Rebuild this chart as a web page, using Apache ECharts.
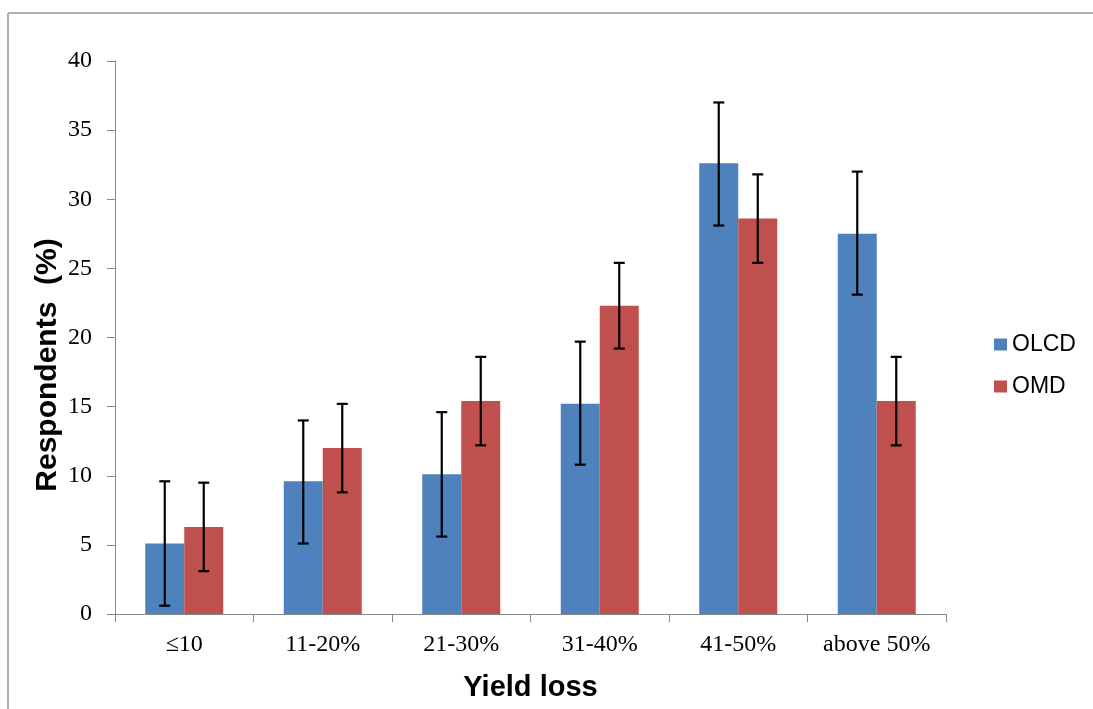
<!DOCTYPE html>
<html>
<head>
<meta charset="utf-8">
<script src="https://cdn.jsdelivr.net/npm/echarts@6/dist/echarts.min.js"></script>
<style>
html,body{margin:0;padding:0;background:#fff;}
#chart{width:1093px;height:709px;}
</style>
</head>
<body>
<div id="chart"></div>
<script>
var categories = ['\u226410', '11-20%', '21-30%', '31-40%', '41-50%', 'above 50%'];
var seriesNames = ['OLCD', 'OMD'];
var olcdValues = [5.1, 9.6, 10.1, 15.2, 32.6, 27.5];
var olcdLow    = [0.6, 5.1, 5.6, 10.8, 28.1, 23.1];
var olcdHigh   = [9.6, 14.0, 14.6, 19.7, 37.0, 32.0];
var omdValues  = [6.3, 12.0, 15.4, 22.3, 28.6, 15.4];
var omdLow     = [3.1, 8.8, 12.2, 19.2, 25.4, 12.2];
var omdHigh    = [9.5, 15.2, 18.6, 25.4, 31.8, 18.6];
var yTicks = {min: 0, max: 40, interval: 5};
var yTitle = 'Respondents  (%)';
var xTitle = 'Yield loss';

var BAR_W = 39;
var chart = echarts.init(document.getElementById('chart'));

function errData(low, high) {
  return categories.map(function (c, i) { return [i, low[i], high[i]]; });
}
function errRender(offset) {
  return function (params, api) {
    var i = api.value(0);
    var lo = api.coord([i, api.value(1)]);
    var hi = api.coord([i, api.value(2)]);
    var x = lo[0] + offset;
    var cap = 5.5;
    var st = {stroke: '#000', lineWidth: 2.2};
    return {
      type: 'group',
      children: [
        {type: 'line', shape: {x1: x, y1: hi[1], x2: x, y2: lo[1]}, style: st},
        {type: 'line', shape: {x1: x - cap, y1: hi[1], x2: x + cap, y2: hi[1]}, style: st},
        {type: 'line', shape: {x1: x - cap, y1: lo[1], x2: x + cap, y2: lo[1]}, style: st}
      ]
    };
  };
}

chart.setOption({
  animation: false,
  backgroundColor: '#fff',
  grid: {left: 115, right: 147, top: 61, bottom: 95, containLabel: false},
  legend: {
    orient: 'vertical',
    left: 989, top: 328,
    data: seriesNames,
    itemWidth: 13, itemHeight: 12, itemGap: 19,
    icon: 'rect',
    textStyle: {fontFamily: 'Liberation Sans', fontSize: 23, color: '#000'}
  },
  xAxis: {
    type: 'category',
    data: categories,
    boundaryGap: true,
    name: xTitle,
    nameLocation: 'middle',
    nameGap: 59,
    nameTextStyle: {fontFamily: 'Liberation Sans', fontWeight: 'bold', fontSize: 29, color: '#000'},
    axisLine: {lineStyle: {color: '#888', width: 1}},
    axisTick: {show: true, length: 8, lineStyle: {color: '#888'}},
    axisLabel: {fontFamily: 'Liberation Serif', fontSize: 24, color: '#000', margin: 19, interval: 0},
    splitLine: {show: false}
  },
  yAxis: {
    type: 'value',
    min: yTicks.min, max: yTicks.max, interval: yTicks.interval,
    axisLine: {show: true, lineStyle: {color: '#888', width: 1}},
    axisTick: {show: true, length: 8, lineStyle: {color: '#888'}},
    axisLabel: {fontFamily: 'Liberation Serif', fontSize: 24, color: '#000', margin: 23},
    splitLine: {show: false}
  },
  graphic: [
    {type: 'line', shape: {x1: 8, y1: 13, x2: 1093, y2: 13}, style: {stroke: '#b0b0b0', lineWidth: 2}, silent: true},
    {type: 'line', shape: {x1: 8, y1: 13, x2: 8, y2: 709}, style: {stroke: '#b0b0b0', lineWidth: 2}, silent: true},
    {type: 'text', x: 48, y: 365, rotation: Math.PI / 2, silent: true,
     style: {text: yTitle, fontFamily: 'Liberation Sans', fontWeight: 'bold', fontSize: 30, fill: '#000',
             textAlign: 'center', textVerticalAlign: 'middle'}}
  ],
  series: [
    {name: 'OLCD', type: 'bar', data: olcdValues, barWidth: BAR_W, barGap: '0%',
     itemStyle: {color: '#4F81BD'}},
    {name: 'OMD', type: 'bar', data: omdValues, barWidth: BAR_W, barGap: '0%',
     itemStyle: {color: '#C0504D'}},
    {name: 'OLCD error', type: 'custom', data: errData(olcdLow, olcdHigh),
     renderItem: errRender(-BAR_W / 2), z: 5, encode: {x: 0, y: [1, 2]}},
    {name: 'OMD error', type: 'custom', data: errData(omdLow, omdHigh),
     renderItem: errRender(BAR_W / 2), z: 5, encode: {x: 0, y: [1, 2]}}
  ]
});
</script>
</body>
</html>
